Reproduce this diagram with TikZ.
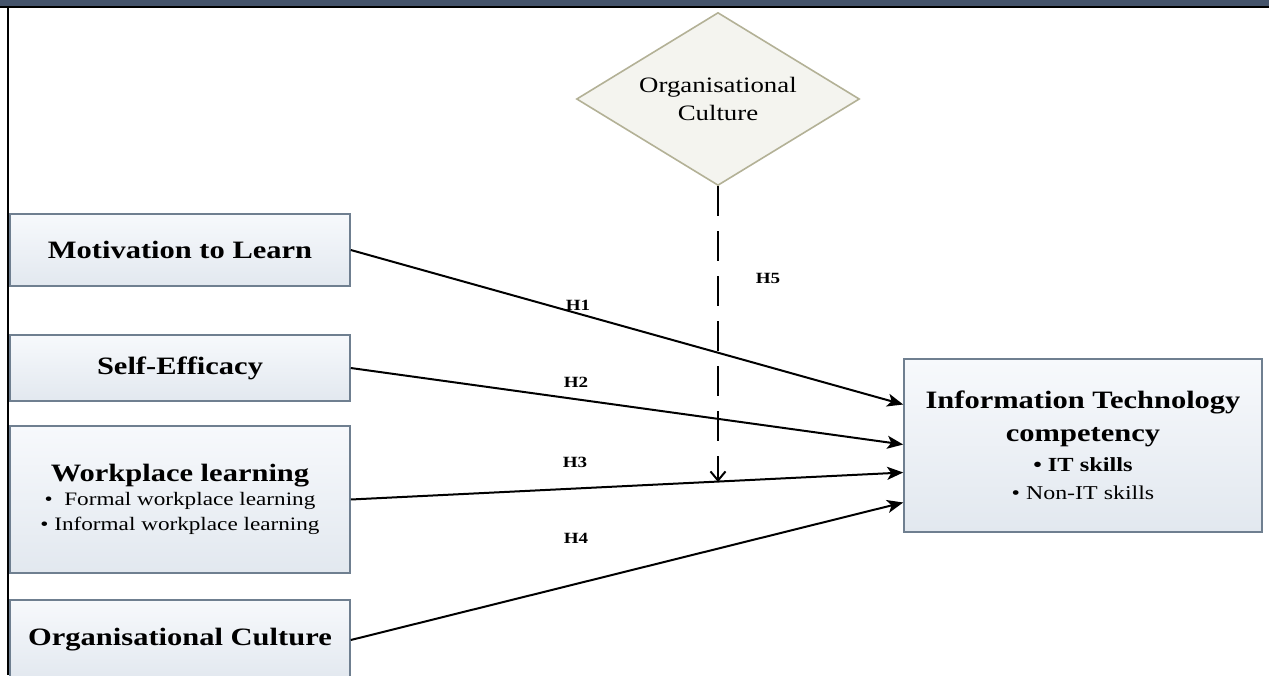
\documentclass[tikz,border=0pt]{standalone}
\usepackage{fontspec}
\setmainfont{Liberation Serif}[FakeStretch=1.22]
\usepackage{tikz}
\usetikzlibrary{arrows.meta,shapes.geometric}

\definecolor{bandcol}{HTML}{45546B}
\definecolor{boxline}{HTML}{6F7F90}
\definecolor{boxtop}{HTML}{F7F9FC}
\definecolor{boxbot}{HTML}{E2E8EF}
\definecolor{dialine}{HTML}{B3B196}
\definecolor{diafill}{HTML}{F4F4EF}

\begin{document}
\begin{tikzpicture}[x=0.5pt, y=-0.5pt, >={Stealth[length=8pt,width=6.5pt,inset=2pt]},
	cbox/.style={draw=boxline, line width=0.8pt, top color=boxtop, bottom color=boxbot, minimum width=170pt, inner sep=0pt, align=center},
	head/.style={font=\fontsize{12.5}{15}\selectfont\bfseries},
	hyp/.style={font=\fontsize{7.8}{9}\selectfont\bfseries},
	link/.style={->, line width=1pt}]
	\useasboundingbox (0,0) rectangle (1269,675);
	\clip (0,0) rectangle (1269,675);
	\fill[bandcol] (0,0) rectangle (1269,6);
	\draw[line width=0.7pt] (0,7) -- (1269,7);
	\draw[line width=1pt] (8,7) -- (8,675);
	% left side constructs
	\node[cbox, head, minimum height=36pt] (mot) at (180,250) {Motivation to Learn};
	\node[cbox, head, minimum height=33pt] (self) at (180,368) {Self-Efficacy};
	\node[cbox, minimum height=73.5pt, font=\fontsize{9.5}{12.5}\selectfont] (work) at (180,499.5) {{\fontsize{12.5}{15}\selectfont\bfseries Workplace learning}\\[-0.5pt]
		\textbullet\ \ Formal workplace learning\\
		\textbullet\ Informal workplace learning};
	\node[cbox, head, minimum height=40pt] (org) at (180,640) {Organisational Culture};
	% outcome
	\node[cbox, minimum width=179pt, minimum height=86.5pt, font=\fontsize{12.5}{14}\selectfont] (it) at (1083,445.5) {\textbf{Information Technology}\\[2.5pt]
		\textbf{competency}\\[1pt]
		{\fontsize{10}{12}\selectfont\bfseries\textbullet\ IT skills}\\[0pt]
		{\fontsize{9.8}{12}\selectfont\textbullet\ Non-IT skills}};
	% moderator
	\node[diamond, draw=dialine, line width=0.8pt, fill=diafill, aspect=1.64, minimum width=141.5pt, minimum height=86.5pt, inner sep=0pt, align=center, font=\fontsize{11}{14}\selectfont] (mod) at (718,99) {Organisational\\Culture};
	\coordinate (hit) at (718,482);
	\draw[link] (mot.east) -- ([yshift=20.5pt]it.west);
	\draw[link] (self.east) -- ([yshift=0.5pt]it.west);
	\draw[link] (work.east) -- ([yshift=-13.5pt]it.west);
	\draw[link] (org.east) -- ([yshift=-28.5pt]it.west);
	\draw[line width=1pt, dash pattern=on 15pt off 7.5pt, -{Straight Barb[length=4.5pt,width=7.5pt]}] (mod.south) -- (hit);
	\node[hyp] (h1) at (578,305) {H1};
	\node[hyp] (h2) at (576,382) {H2};
	\node[hyp] (h3) at (575,462) {H3};
	\node[hyp] (h4) at (576,538) {H4};
	\node[hyp] (h5) at (768,278) {H5};
\end{tikzpicture}
\end{document}
